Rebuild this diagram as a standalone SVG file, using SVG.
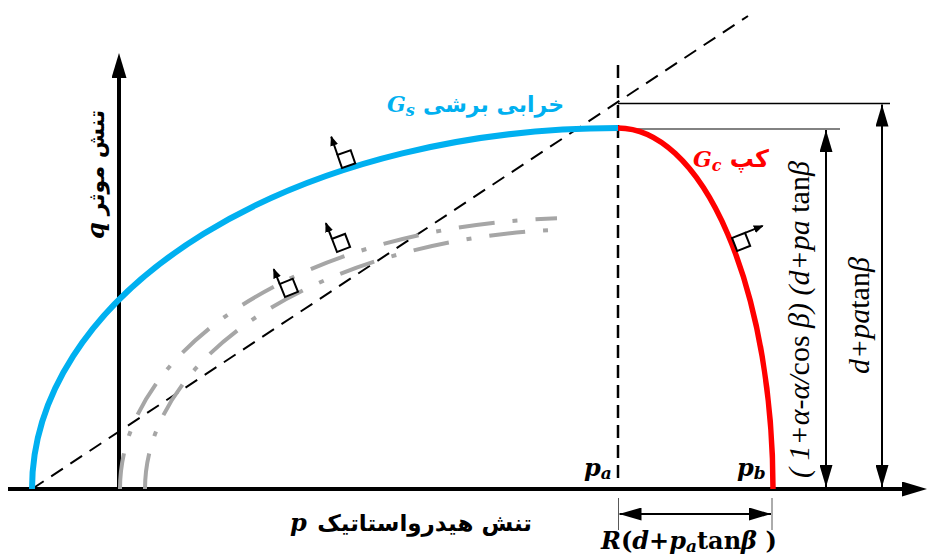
<svg xmlns="http://www.w3.org/2000/svg" width="929" height="558" viewBox="0 0 929 558">
<defs>
<style>
.ax{stroke:#000;stroke-width:4;fill:none}
.dash{stroke:#000;stroke-width:2;fill:none;stroke-dasharray:14 9}
.vdash{stroke:#000;stroke-width:2.5;fill:none;stroke-dasharray:13 7}
.gray{stroke:#A6A6A6;stroke-width:4;fill:none;stroke-dasharray:36 18 5 18}
.thin{stroke:#000;stroke-width:1.5;fill:none}
.thing{stroke:#595959;stroke-width:1.5;fill:none}
.tick{stroke:#595959;stroke-width:1;fill:none}
.dim{stroke:#000;stroke-width:2;fill:none;marker-start:url(#dimA);marker-end:url(#dimA)}
.nrm rect{stroke:#000;stroke-width:2;fill:#fff}
.nrm line{stroke:#000;stroke-width:2;marker-end:url(#nA)}
.ar{font-family:"DejaVu Sans",sans-serif;font-weight:bold}
.m{font-family:"DejaVu Serif",serif;font-weight:bold;font-style:italic}
.t{font-family:"Liberation Serif",serif;font-style:italic}
.up{font-style:normal}
</style>
<marker id="axh" viewBox="0 0 25 15" refX="2" refY="7.5" markerWidth="25" markerHeight="15" markerUnits="userSpaceOnUse" orient="auto"><path d="M0,0 L25,7.5 L0,15 z" fill="#000"/></marker>
<marker id="dimA" viewBox="0 0 22 13" refX="22" refY="6.5" markerWidth="22" markerHeight="13" markerUnits="userSpaceOnUse" orient="auto-start-reverse"><path d="M0,0 L22,6.5 L0,13 z" fill="#000"/></marker>
<marker id="nA" viewBox="0 0 10 8" refX="9" refY="4" markerWidth="10" markerHeight="8" markerUnits="userSpaceOnUse" orient="auto"><path d="M0,0 L10,4 L0,8 z" fill="#000"/></marker>
</defs>

<g id="axes">
<line class="ax" x1="8" y1="489" x2="904" y2="489" marker-end="url(#axh)"/>
<line class="ax" x1="119" y1="491" x2="119" y2="76" marker-end="url(#axh)"/>
</g>

<g id="guides">
<line class="dash" x1="32" y1="489" x2="748" y2="16"/>
<line class="vdash" x1="618" y1="65" x2="618" y2="481"/>
<line class="thin" x1="618" y1="103.5" x2="890" y2="103.5"/>
<line class="thing" x1="618" y1="129" x2="840" y2="129"/>
<line class="tick" x1="618.5" y1="498" x2="618.5" y2="530"/>
<line class="tick" x1="772" y1="498" x2="772" y2="530"/>
</g>

<g id="curves">
<path id="curveA" class="gray" d="M120,489 A460,271 0 0 1 557,218.3"/>
<path id="curveB" class="gray" d="M145,489 A445,260 0 0 1 548,230.2"/>
<path id="shear" d="M32,489 A586,361 0 0 1 618,128" stroke="#00B0F0" stroke-width="6" fill="none"/>
<path id="cap" d="M618,128 A155,361 0 0 1 773,489" stroke="#FF0000" stroke-width="5.5" fill="none"/>
</g>

<g id="normals">
<g class="nrm" transform="translate(342,168) rotate(-19)"><rect x="0" y="-14" width="14" height="14"/><line x1="0" y1="-14" x2="0" y2="-33"/></g>
<g class="nrm" transform="translate(337,252) rotate(-21)"><rect x="0" y="-14" width="14" height="14"/><line x1="0" y1="-14" x2="0" y2="-31"/></g>
<g class="nrm" transform="translate(285,297) rotate(-22)"><rect x="0" y="-14" width="14" height="14"/><line x1="0" y1="-14" x2="0" y2="-30"/></g>
<g class="nrm" transform="translate(732,238) rotate(68.5)"><rect x="0" y="-14" width="14" height="14"/><line x1="0" y1="-14" x2="0" y2="-33"/></g>
</g>

<g id="dimensions">
<line class="dim" x1="882" y1="104.5" x2="882" y2="487"/>
<line class="dim" x1="826" y1="130" x2="826" y2="487"/>
<line class="dim" x1="619.5" y1="514" x2="771" y2="514"/>
</g>

<g id="labels">
<text class="ar" x="564" y="112" font-size="22" fill="#00B0F0" text-anchor="end">خرابی برشی</text>
<text class="m" x="387" y="112" font-size="22" fill="#00B0F0">G<tspan font-size="16" dy="4">s</tspan></text>
<text class="m" x="693" y="167" font-size="22" fill="#FF0000">G<tspan font-size="16" dy="4">c</tspan></text>
<text class="ar" x="769" y="167" font-size="24" fill="#FF0000" text-anchor="end">کپ</text>
<text class="m" x="584" y="476" font-size="24">p<tspan font-size="17" dy="3">a</tspan></text>
<text class="m" x="737" y="476" font-size="24">p<tspan font-size="17" dy="3">b</tspan></text>
<text class="m" x="601" y="549" font-size="24">R<tspan class="up">(</tspan>d<tspan class="up">+</tspan>p<tspan font-size="17" dy="3">a</tspan><tspan class="up" dy="-3">tan</tspan>β<tspan class="up"> )</tspan></text>
<g transform="translate(104,0) rotate(-90)">
<text class="ar" x="-110" y="0" font-size="22" text-anchor="end">تنش موثر</text>
<text class="m" x="-239" y="0" font-size="24">q</text>
</g>
<text class="ar" x="532" y="531" font-size="23" text-anchor="end">تنش هیدرواستاتیک</text>
<text class="m" x="290" y="531" font-size="24">p</text>
<text class="t" transform="translate(809,478) rotate(-90)" font-size="30">( 1+α-α/<tspan class="up">cos</tspan> β) (d+pa<tspan class="up"> tan</tspan>β</text>
<text class="t" transform="translate(869,374) rotate(-90)" font-size="30">d+pa<tspan class="up">tan</tspan>β</text>
</g>
</svg>
